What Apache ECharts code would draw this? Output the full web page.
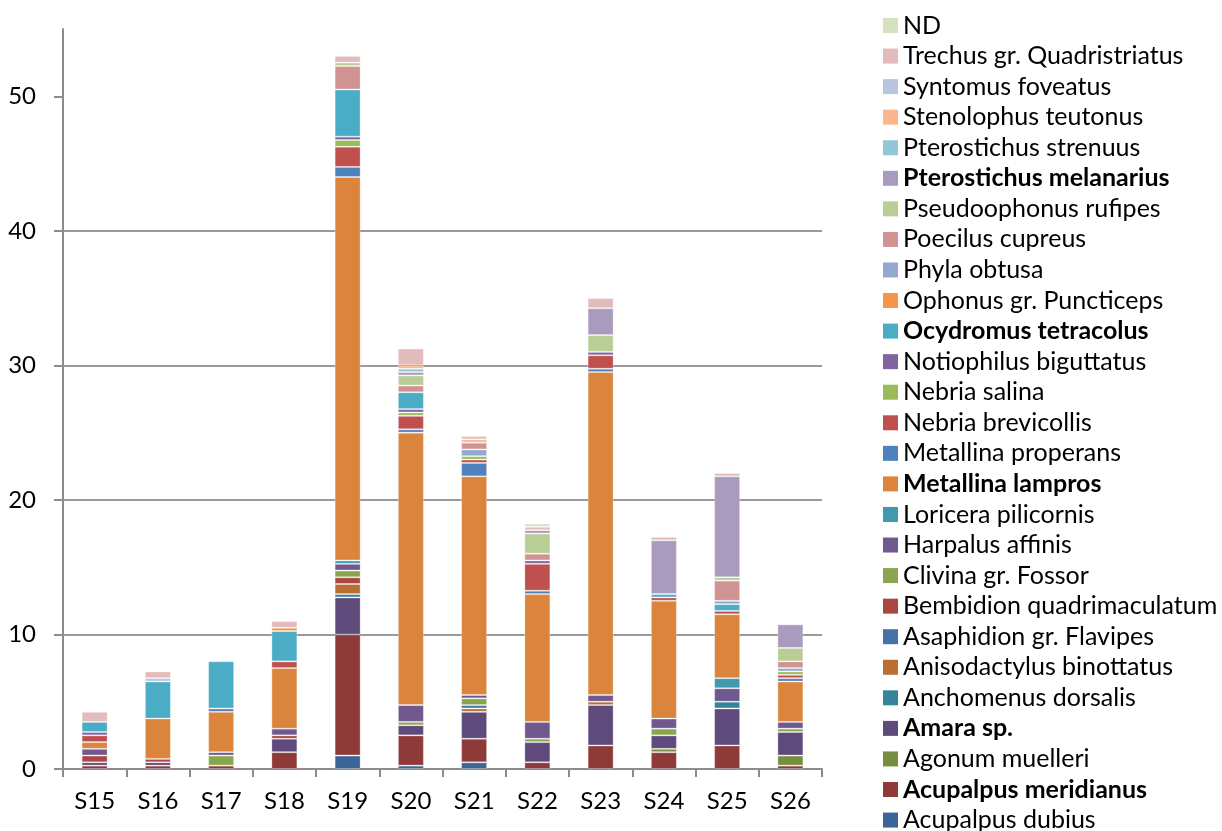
<!DOCTYPE html>
<html>
<head>
<meta charset="utf-8">
<script src="https://cdn.jsdelivr.net/npm/echarts@6/dist/echarts.min.js"></script>
<style>
html,body{margin:0;padding:0;background:#fff;}
#chart{width:1222px;height:831px;}
</style>
</head>
<body>
<div id="chart"></div>
<script>
// Categories (sites)
const categories = ['S15','S16','S17','S18','S19','S20','S21','S22','S23','S24','S25','S26'];
const yTicks = [0, 10, 20, 30, 40, 50];

// Species values (stacked bottom -> top), one value per site S15..S26
const acupalpusDubius        = [0, 0, 0, 0, 1.0, 0.25, 0.5, 0, 0, 0, 0, 0];
const acupalpusMeridianus    = [0.25, 0.25, 0.25, 1.25, 9.0, 2.25, 1.75, 0.5, 1.75, 1.25, 1.75, 0.25];
const agonumMuelleri         = [0, 0, 0, 0, 0, 0, 0, 0, 0, 0.25, 0, 0.75];
const amaraSp                = [0.25, 0.25, 0, 1.0, 2.75, 0.75, 2.0, 1.5, 3.0, 1.0, 2.75, 1.75];
const anchomenusDorsalis     = [0, 0, 0, 0, 0.25, 0, 0, 0, 0, 0, 0.5, 0];
const anisodactylusBinottatus= [0, 0, 0, 0, 0.75, 0, 0.25, 0, 0.25, 0, 0, 0];
const asaphidionFlavipes     = [0, 0, 0, 0, 0, 0, 0.25, 0, 0, 0, 0, 0];
const bembidionQuadrimac     = [0.5, 0.25, 0, 0.25, 0.5, 0, 0, 0, 0, 0, 0, 0];
const clivinaFossor          = [0, 0, 0.75, 0, 0.5, 0.25, 0.5, 0.25, 0, 0.5, 0, 0.25];
const harpalusAffinis        = [0.5, 0, 0.25, 0.5, 0.5, 1.25, 0.25, 1.25, 0.5, 0.75, 1.0, 0.5];
const loriceraPilicornis     = [0, 0, 0, 0, 0.25, 0, 0, 0, 0, 0, 0.75, 0];
const metallinaLampros       = [0.5, 3.0, 3.0, 4.5, 28.5, 20.25, 16.25, 9.5, 24.0, 8.75, 4.75, 3.0];
const metallinaProperans     = [0, 0, 0.25, 0, 0.75, 0.25, 1.0, 0.25, 0.25, 0, 0, 0.25];
const nebriaBrevicollis      = [0.5, 0, 0, 0.5, 1.5, 1.0, 0.25, 2.0, 1.0, 0.25, 0.25, 0.25];
const nebriaSalina           = [0, 0, 0, 0, 0.5, 0.25, 0.25, 0, 0, 0, 0, 0.25];
const notiophilusBiguttatus  = [0.25, 0, 0, 0, 0.25, 0.25, 0, 0.25, 0.25, 0, 0, 0];
const ocydromusTetracolus    = [0.75, 2.75, 3.5, 2.25, 3.5, 1.25, 0, 0, 0, 0.25, 0.5, 0];
const ophonusPuncticeps      = [0, 0, 0, 0.25, 0, 0, 0, 0, 0, 0, 0, 0];
const phylaObtusa            = [0, 0, 0, 0, 0, 0, 0.5, 0, 0, 0, 0.25, 0.25];
const poecilusCupreus        = [0, 0, 0, 0, 1.75, 0.5, 0.5, 0.5, 0, 0, 1.5, 0.5];
const pseudoophonusRufipes   = [0, 0, 0, 0, 0.25, 0.75, 0, 1.5, 1.25, 0, 0.25, 1.0];
const pterostichusMelanarius = [0, 0, 0, 0, 0, 0.25, 0, 0.25, 2.0, 4.0, 7.5, 1.75];
const pterostichusStrenuus   = [0, 0, 0, 0, 0, 0.25, 0, 0, 0, 0, 0, 0];
const stenolophusTeutonus    = [0, 0, 0, 0, 0, 0.25, 0.25, 0, 0, 0, 0, 0];
const syntomusFoveatus       = [0, 0.25, 0, 0, 0, 0, 0, 0, 0, 0, 0, 0];
const trechusQuadristriatus  = [0.75, 0.5, 0, 0.5, 0.5, 1.25, 0.25, 0.25, 0.75, 0.25, 0.25, 0];
const ndValues               = [0, 0, 0, 0, 0, 0, 0, 0.25, 0, 0, 0, 0];

const seriesNames = [
  'Acupalpus dubius','Acupalpus meridianus','Agonum muelleri','Amara sp.','Anchomenus dorsalis',
  'Anisodactylus binottatus','Asaphidion gr. Flavipes','Bembidion quadrimaculatum','Clivina gr. Fossor',
  'Harpalus affinis','Loricera pilicornis','Metallina lampros','Metallina properans','Nebria brevicollis',
  'Nebria salina','Notiophilus biguttatus','Ocydromus tetracolus','Ophonus gr. Puncticeps','Phyla obtusa',
  'Poecilus cupreus','Pseudoophonus rufipes','Pterostichus melanarius','Pterostichus strenuus',
  'Stenolophus teutonus','Syntomus foveatus','Trechus gr. Quadristriatus','ND'
];
const seriesValues = [
  acupalpusDubius, acupalpusMeridianus, agonumMuelleri, amaraSp, anchomenusDorsalis,
  anisodactylusBinottatus, asaphidionFlavipes, bembidionQuadrimac, clivinaFossor,
  harpalusAffinis, loriceraPilicornis, metallinaLampros, metallinaProperans, nebriaBrevicollis,
  nebriaSalina, notiophilusBiguttatus, ocydromusTetracolus, ophonusPuncticeps, phylaObtusa,
  poecilusCupreus, pseudoophonusRufipes, pterostichusMelanarius, pterostichusStrenuus,
  stenolophusTeutonus, syntomusFoveatus, trechusQuadristriatus, ndValues
];
const seriesColors = [
  '#3C6595','#8E3A38','#758E3F','#5E4A7B','#34849A',
  '#B96E33','#4572A7','#AA4643','#89A54E',
  '#71588F','#4198AF','#DB843D','#4F81BD','#C0504D',
  '#9BBB59','#8064A2','#4BACC6','#F79646','#93A9CF',
  '#D19392','#B9CD96','#A99BBD','#93C6D6',
  '#FAB78E','#B9C4DE','#E3BBBA','#D5E2C2'
];
const boldNames = ['Pterostichus melanarius','Ocydromus tetracolus','Metallina lampros','Amara sp.','Acupalpus meridianus'];

const FONT = 'Lato';

const series = seriesNames.map((name, i) => ({
  name: name,
  type: 'bar',
  stack: 'total',
  barWidth: 26,
  itemStyle: { color: seriesColors[i], borderColor: 'rgba(255,255,255,0.3)', borderWidth: 1 },
  emphasis: { disabled: true },
  data: seriesValues[i].map(v => (v === 0 ? '-' : v))
}));

const chart = echarts.init(document.getElementById('chart'), null, { renderer: 'canvas' });
chart.setOption({
  animation: false,
  backgroundColor: '#ffffff',
  textStyle: { fontFamily: FONT },
  grid: { left: 63, right: 400, top: 29, bottom: 62, containLabel: false },
  legend: {
    orient: 'vertical',
    left: 883,
    top: 13,
    height: 826,
    padding: 0,
    itemWidth: 15,
    itemHeight: 15,
    itemGap: 5.56,
    icon: 'rect',
    itemStyle: { borderWidth: 0 },
    data: seriesNames.slice().reverse(),
    formatter: name => boldNames.indexOf(name) >= 0 ? '{b|' + name + '}' : name,
    textStyle: {
      fontFamily: FONT, fontSize: 25, color: '#000', lineHeight: 25,
      rich: { b: { fontFamily: FONT, fontSize: 25, fontWeight: 'bold', color: '#000', lineHeight: 25 } }
    },
    selectedMode: false
  },
  xAxis: {
    type: 'category',
    data: categories,
    axisLine: { lineStyle: { color: '#8C8C8C', width: 2 } },
    axisTick: { show: true, alignWithLabel: false, length: 8, lineStyle: { color: '#8C8C8C', width: 2 } },
    axisLabel: { fontFamily: FONT, fontSize: 24, color: '#000', margin: 20 }
  },
  yAxis: {
    type: 'value',
    min: 0,
    max: 55,
    interval: 10,
    axisLine: { show: true, lineStyle: { color: '#8C8C8C', width: 2 } },
    axisTick: { show: true, length: 9, customValues: yTicks, lineStyle: { color: '#8C8C8C', width: 2 } },
    axisLabel: { fontFamily: FONT, fontSize: 24, color: '#000', margin: 27, showMaxLabel: false },
    splitLine: { show: true, showMaxLine: false, lineStyle: { color: '#9A9A9A', width: 2 } }
  },
  series: series
});
</script>
</body>
</html>
